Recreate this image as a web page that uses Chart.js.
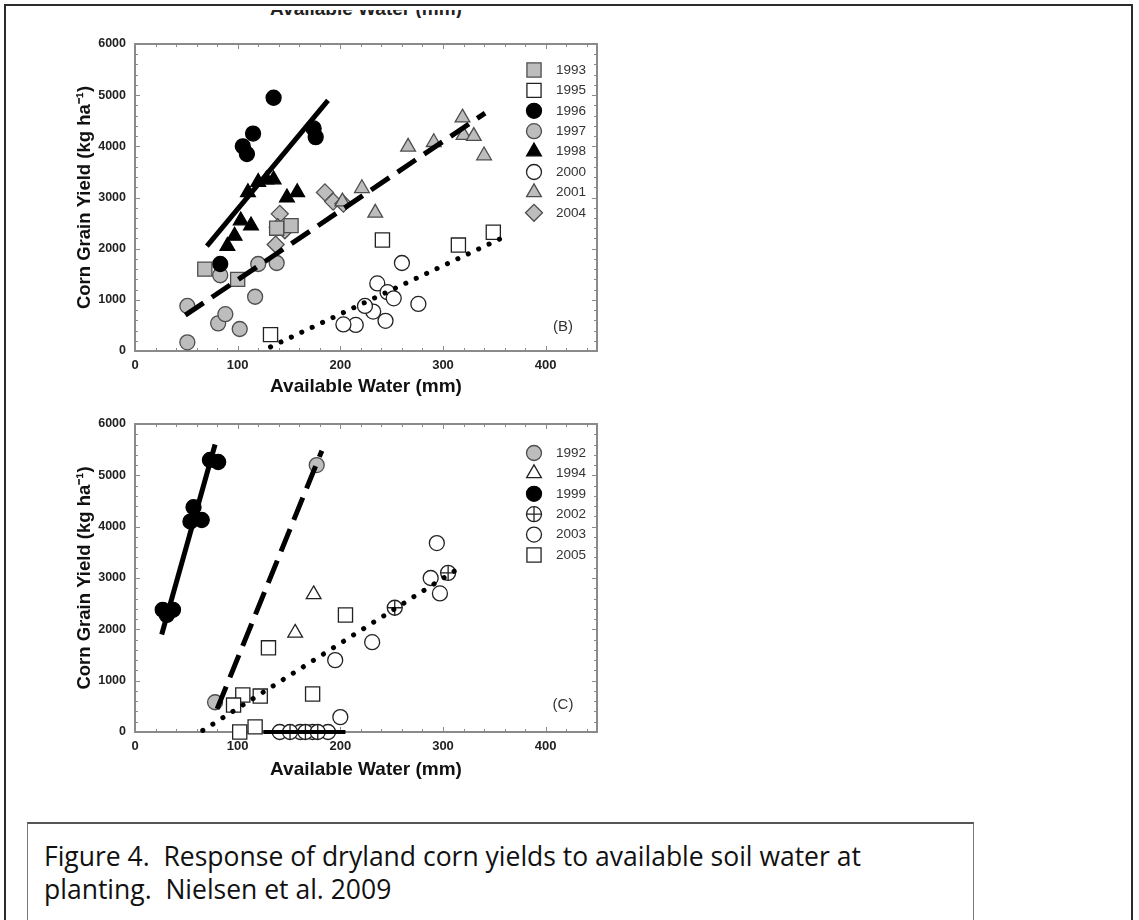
<!DOCTYPE html>
<html>
<head>
<meta charset="utf-8">
<script src="https://cdn.jsdelivr.net/npm/chart.js@4.4.1/dist/chart.umd.min.js"></script>
<style>
  html, body { margin: 0; padding: 0; background: #fff; }
  body { width: 1139px; height: 920px; position: relative; overflow: hidden; font-family: "Liberation Sans", Arial, sans-serif; }
  .frame { position: absolute; left: 4px; top: 4px; width: 1129px; height: 960px; border: 2px solid #2b2b2b; box-sizing: border-box; }
  .panel { position: absolute; left: 0; }
  #topPanel { top: 0; }
  #bottomPanel { top: 380px; }
  .cut { position: absolute; left: 135px; width: 462px; top: 10px; height: 8px; overflow: hidden; }
  .cut span { position: absolute; left: 0; right: 0; top: -12px; text-align: center; font: bold 19px "Liberation Sans", Arial, sans-serif; color: #222; }
  .caption { position: absolute; left: 27px; top: 822px; width: 947px; height: 140px; border-top: 2px solid #555; border-left: 1px solid #777; border-right: 1px solid #777; box-sizing: border-box; }
  .caption p { margin: 0; position: absolute; left: 16px; font: 26.5px/1.2 "Open Sans", Lato, sans-serif; color: #111; white-space: nowrap; }
</style>
</head>
<body>
<div class="frame"></div>
<div class="cut"><span>Available Water (mm)</span></div>
<canvas id="topPanel" class="panel" width="620" height="400"></canvas>
<canvas id="bottomPanel" class="panel" width="620" height="401"></canvas>
<div class="caption">
  <p style="top:17px">Figure 4.&nbsp; Response of dryland corn yields to available soil water at</p>
  <p style="top:50px">planting.&nbsp; Nielsen et al. 2009</p>
</div>
<script>
/* Axis ticks */

const xTickValues = [0, 100, 200, 300, 400];
const yTickValues = [0, 1000, 2000, 3000, 4000, 5000, 6000];

/* Panel B data */

const b1993X = [68, 100, 138, 152];
const b1993Y = [1600, 1400, 2400, 2450];
const b1995X = [132, 241, 315, 349];
const b1995Y = [320, 2170, 2070, 2320];
const b1996X = [83, 105, 109, 115, 135, 174, 176];
const b1996Y = [1700, 4000, 3850, 4250, 4950, 4350, 4180];
const b1997X = [51, 51, 81, 88, 102, 117, 83, 120, 138];
const b1997Y = [880, 170, 540, 720, 430, 1060, 1480, 1700, 1720];
const b1998X = [90, 97, 103, 113, 110, 120, 128, 135, 148, 158];
const b1998Y = [2050, 2250, 2550, 2450, 3100, 3300, 3350, 3350, 3000, 3100];
const b2000X = [260, 236, 276, 246, 252, 244, 232, 215, 203, 224];
const b2000Y = [1720, 1320, 920, 1150, 1030, 590, 770, 510, 520, 880];
const b2001X = [319, 320, 330, 340, 291, 266, 221, 202, 234];
const b2001Y = [4560, 4220, 4200, 3820, 4080, 3990, 3180, 2920, 2700];
const b2004X = [141, 146, 139, 137, 185, 193, 203];
const b2004Y = [2680, 2360, 2420, 2080, 3100, 2920, 2880];

const bSolidX = [70, 188];
const bSolidY = [2050, 4900];
const bDashX = [49, 341];
const bDashY = [700, 4650];
const bDotX = [132, 365];
const bDotY = [80, 2280];

/* Panel C data */

const c1992X = [177, 78];
const c1992Y = [5200, 580];
const c1994X = [174, 156];
const c1994Y = [2680, 1930];
const c1999X = [73, 81, 57, 54, 65, 27, 37, 31];
const c1999Y = [5300, 5260, 4380, 4100, 4130, 2380, 2380, 2280];
const c2002X = [305, 253, 151, 166, 178];
const c2002Y = [3100, 2420, 0, 0, 0];
const c2003X = [195, 200, 231, 297, 294, 288, 141, 161, 173, 188];
const c2003Y = [1400, 290, 1750, 2700, 3680, 3000, 0, 0, 0, 0];
const c2005X = [205, 130, 173, 105, 122, 96, 102, 117];
const c2005Y = [2280, 1640, 740, 720, 700, 525, 0, 100];

const cSolidX = [26, 78];
const cSolidY = [1900, 5600];
const cDashX = [80, 182];
const cDashY = [450, 5480];
const cDotX = [66, 317];
const cDotY = [30, 3210];
const cZeroX = [125, 205];
const cZeroY = [0, 0];

/* Helpers */

const grayFill = "#bdbdbd";
const grayEdge = "#4d4d4d";
const labelFont = "'Liberation Sans', Arial, sans-serif";

function points(xs, ys) {
    return xs.map((x, i) => ({ x: x, y: ys[i] }));
}

function marker(label, xs, ys, style, fill, edge, radius) {
    return {
        label: label,
        data: points(xs, ys),
        pointStyle: style,
        backgroundColor: fill,
        borderColor: edge,
        borderWidth: 1.3,
        pointRadius: radius,
        pointHoverRadius: radius,
        showLine: false,
        clip: false
    };
}

function fitLine(xs, ys, dash, width, cap) {
    return {
        label: "fit",
        legend: false,
        data: points(xs, ys),
        showLine: true,
        pointRadius: 0,
        pointHoverRadius: 0,
        borderColor: "#000",
        backgroundColor: "#000",
        borderWidth: width,
        borderDash: dash,
        borderCapStyle: cap,
        clip: false
    };
}

/* Plugins */

const frameTicks = {
    id: "frameTicks",
    beforeDatasetsDraw(chart) {
        const ctx = chart.ctx;
        const a = chart.chartArea;
        const x = chart.scales.x;
        const y = chart.scales.y;
        ctx.save();
        ctx.strokeStyle = "#8a8a8a";
        ctx.lineWidth = 1;
        ctx.beginPath();
        for (let v = 20; v < 450; v += 20) {
            const px = Math.round(x.getPixelForValue(v)) + 0.5;
            const len = v % 100 === 0 ? 5 : 3;
            ctx.moveTo(px, a.bottom); ctx.lineTo(px, a.bottom - len);
            ctx.moveTo(px, a.top); ctx.lineTo(px, a.top + len);
        }
        for (let v = 200; v < 6000; v += 200) {
            const py = Math.round(y.getPixelForValue(v)) + 0.5;
            const len = v % 1000 === 0 ? 5 : 3;
            ctx.moveTo(a.left, py); ctx.lineTo(a.left + len, py);
            ctx.moveTo(a.right, py); ctx.lineTo(a.right - len, py);
        }
        ctx.stroke();
        ctx.lineWidth = 2;
        ctx.strokeRect(a.left, a.top, a.right - a.left, a.bottom - a.top);
        ctx.restore();
    }
};

const insideLegend = {
    id: "insideLegend",
    afterDatasetsDraw(chart, args, opts) {
        const ctx = chart.ctx;
        const rows = [];
        chart.data.datasets.forEach(ds => {
            if (ds.legend === false) return;
            let row = rows.find(r => r.label === ds.label);
            if (!row) {
                row = { label: ds.label, sets: [] };
                rows.push(row);
            }
            row.sets.push(ds);
        });
        ctx.save();
        rows.forEach((row, i) => {
            const yPos = opts.top + i * opts.step;
            // later datasets sit underneath in the plot, so draw them first here too
            [...row.sets].reverse().forEach(ds => {
                ctx.fillStyle = ds.backgroundColor;
                ctx.strokeStyle = ds.borderColor;
                ctx.lineWidth = ds.borderWidth;
                Chart.helpers.drawPoint(ctx, {
                    pointStyle: ds.pointStyle,
                    radius: ds.pointRadius,
                    borderWidth: ds.borderWidth,
                    rotation: 0
                }, opts.markerX, yPos);
            });
            ctx.fillStyle = "#333";
            ctx.font = "13.5px " + labelFont;
            ctx.textBaseline = "middle";
            ctx.textAlign = "left";
            ctx.fillText(row.label, opts.textX, yPos);
        });
        ctx.font = "15px " + labelFont;
        ctx.fillStyle = "#333";
        ctx.textAlign = "center";
        ctx.fillText(opts.tag, opts.tagX, opts.tagY);
        ctx.restore();
    }
};

/* Shared options */

function panelOptions(legendTop, tag, titleBottomPad) {
    return {
        responsive: false,
        animation: false,
        events: [],
        layout: { padding: { top: 44, right: 23, left: 0, bottom: 0 } },
        plugins: {
            legend: { display: false },
            tooltip: { enabled: false },
            insideLegend: {
                top: legendTop,
                step: 20.4,
                markerX: 534,
                textX: 556,
                tag: tag.text,
                tagX: 563,
                tagY: tag.y
            }
        },
        scales: {
            x: {
                type: "linear",
                min: 0,
                max: 450,
                afterFit(scale) { scale.height = 49; },
                border: { display: false },
                grid: { display: false, drawTicks: false },
                ticks: {
                    stepSize: 100,
                    padding: 7,
                    color: "#222",
                    font: { family: labelFont, size: 13, weight: "bold" },
                    callback: v => xTickValues.includes(v) ? v : ""
                },
                title: {
                    display: true,
                    text: "Available Water (mm)",
                    color: "#111",
                    padding: { top: 0, bottom: titleBottomPad },
                    font: { family: labelFont, size: 19, weight: "bold" }
                }
            },
            y: {
                type: "linear",
                min: 0,
                max: 6000,
                afterFit(scale) { scale.width = 135; },
                border: { display: false },
                grid: { display: false, drawTicks: false },
                ticks: {
                    stepSize: 1000,
                    padding: 9,
                    color: "#222",
                    font: { family: labelFont, size: 12.5, weight: "bold" },
                    callback: v => yTickValues.includes(v) ? v : ""
                },
                title: {
                    display: true,
                    text: "Corn Grain Yield (kg ha\u207B\u00B9)",
                    color: "#111",
                    padding: { top: 74, bottom: 0 },
                    font: { family: labelFont, size: 18.5, weight: "bold" }
                }
            }
        }
    };
}

/* Panel B */

new Chart(document.querySelector("#topPanel"), {
    type: "scatter",
    data: {
        datasets: [
            fitLine(bSolidX, bSolidY, [], 5, "butt"),
            fitLine(bDashX, bDashY, [22, 10], 5, "butt"),
            fitLine(bDotX, bDotY, [0.1, 11.4], 5, "round"),
            marker("1993", b1993X, b1993Y, "rect", grayFill, grayEdge, 10),
            marker("1995", b1995X, b1995Y, "rect", "#fff", "#222", 10),
            marker("1996", b1996X, b1996Y, "circle", "#000", "#000", 7.5),
            marker("1997", b1997X, b1997Y, "circle", grayFill, grayEdge, 7.5),
            marker("1998", b1998X, b1998Y, "triangle", "#000", "#000", 8.5),
            marker("2000", b2000X, b2000Y, "circle", "#fff", "#222", 7.5),
            marker("2001", b2001X, b2001Y, "triangle", grayFill, grayEdge, 8.5),
            marker("2004", b2004X, b2004Y, "rectRot", grayFill, grayEdge, 8.5)
        ]
    },
    options: panelOptions(70, { text: "(B)", y: 327 }, 2),
    plugins: [frameTicks, insideLegend]
});

/* Panel C */

new Chart(document.querySelector("#bottomPanel"), {
    type: "scatter",
    data: {
        datasets: [
            fitLine(cSolidX, cSolidY, [], 5, "butt"),
            fitLine(cDashX, cDashY, [24, 10], 5, "butt"),
            fitLine(cDotX, cDotY, [0.1, 11.8], 5, "round"),
            fitLine(cZeroX, cZeroY, [], 4, "butt"),
            marker("1992", c1992X, c1992Y, "circle", grayFill, grayEdge, 7.5),
            marker("1994", c1994X, c1994Y, "triangle", "#fff", "#222", 8.5),
            marker("1999", c1999X, c1999Y, "circle", "#000", "#000", 7.5),
            marker("2002", c2002X, c2002Y, "cross", "#222", "#222", 7.5),
            marker("2002", c2002X, c2002Y, "circle", "#fff", "#222", 7.5),
            marker("2003", c2003X, c2003Y, "circle", "#fff", "#222", 7.5),
            marker("2005", c2005X, c2005Y, "rect", "#fff", "#222", 10)
        ]
    },
    options: panelOptions(73, { text: "(C)", y: 325 }, 0),
    plugins: [frameTicks, insideLegend]
});
</script>
</body>
</html>
